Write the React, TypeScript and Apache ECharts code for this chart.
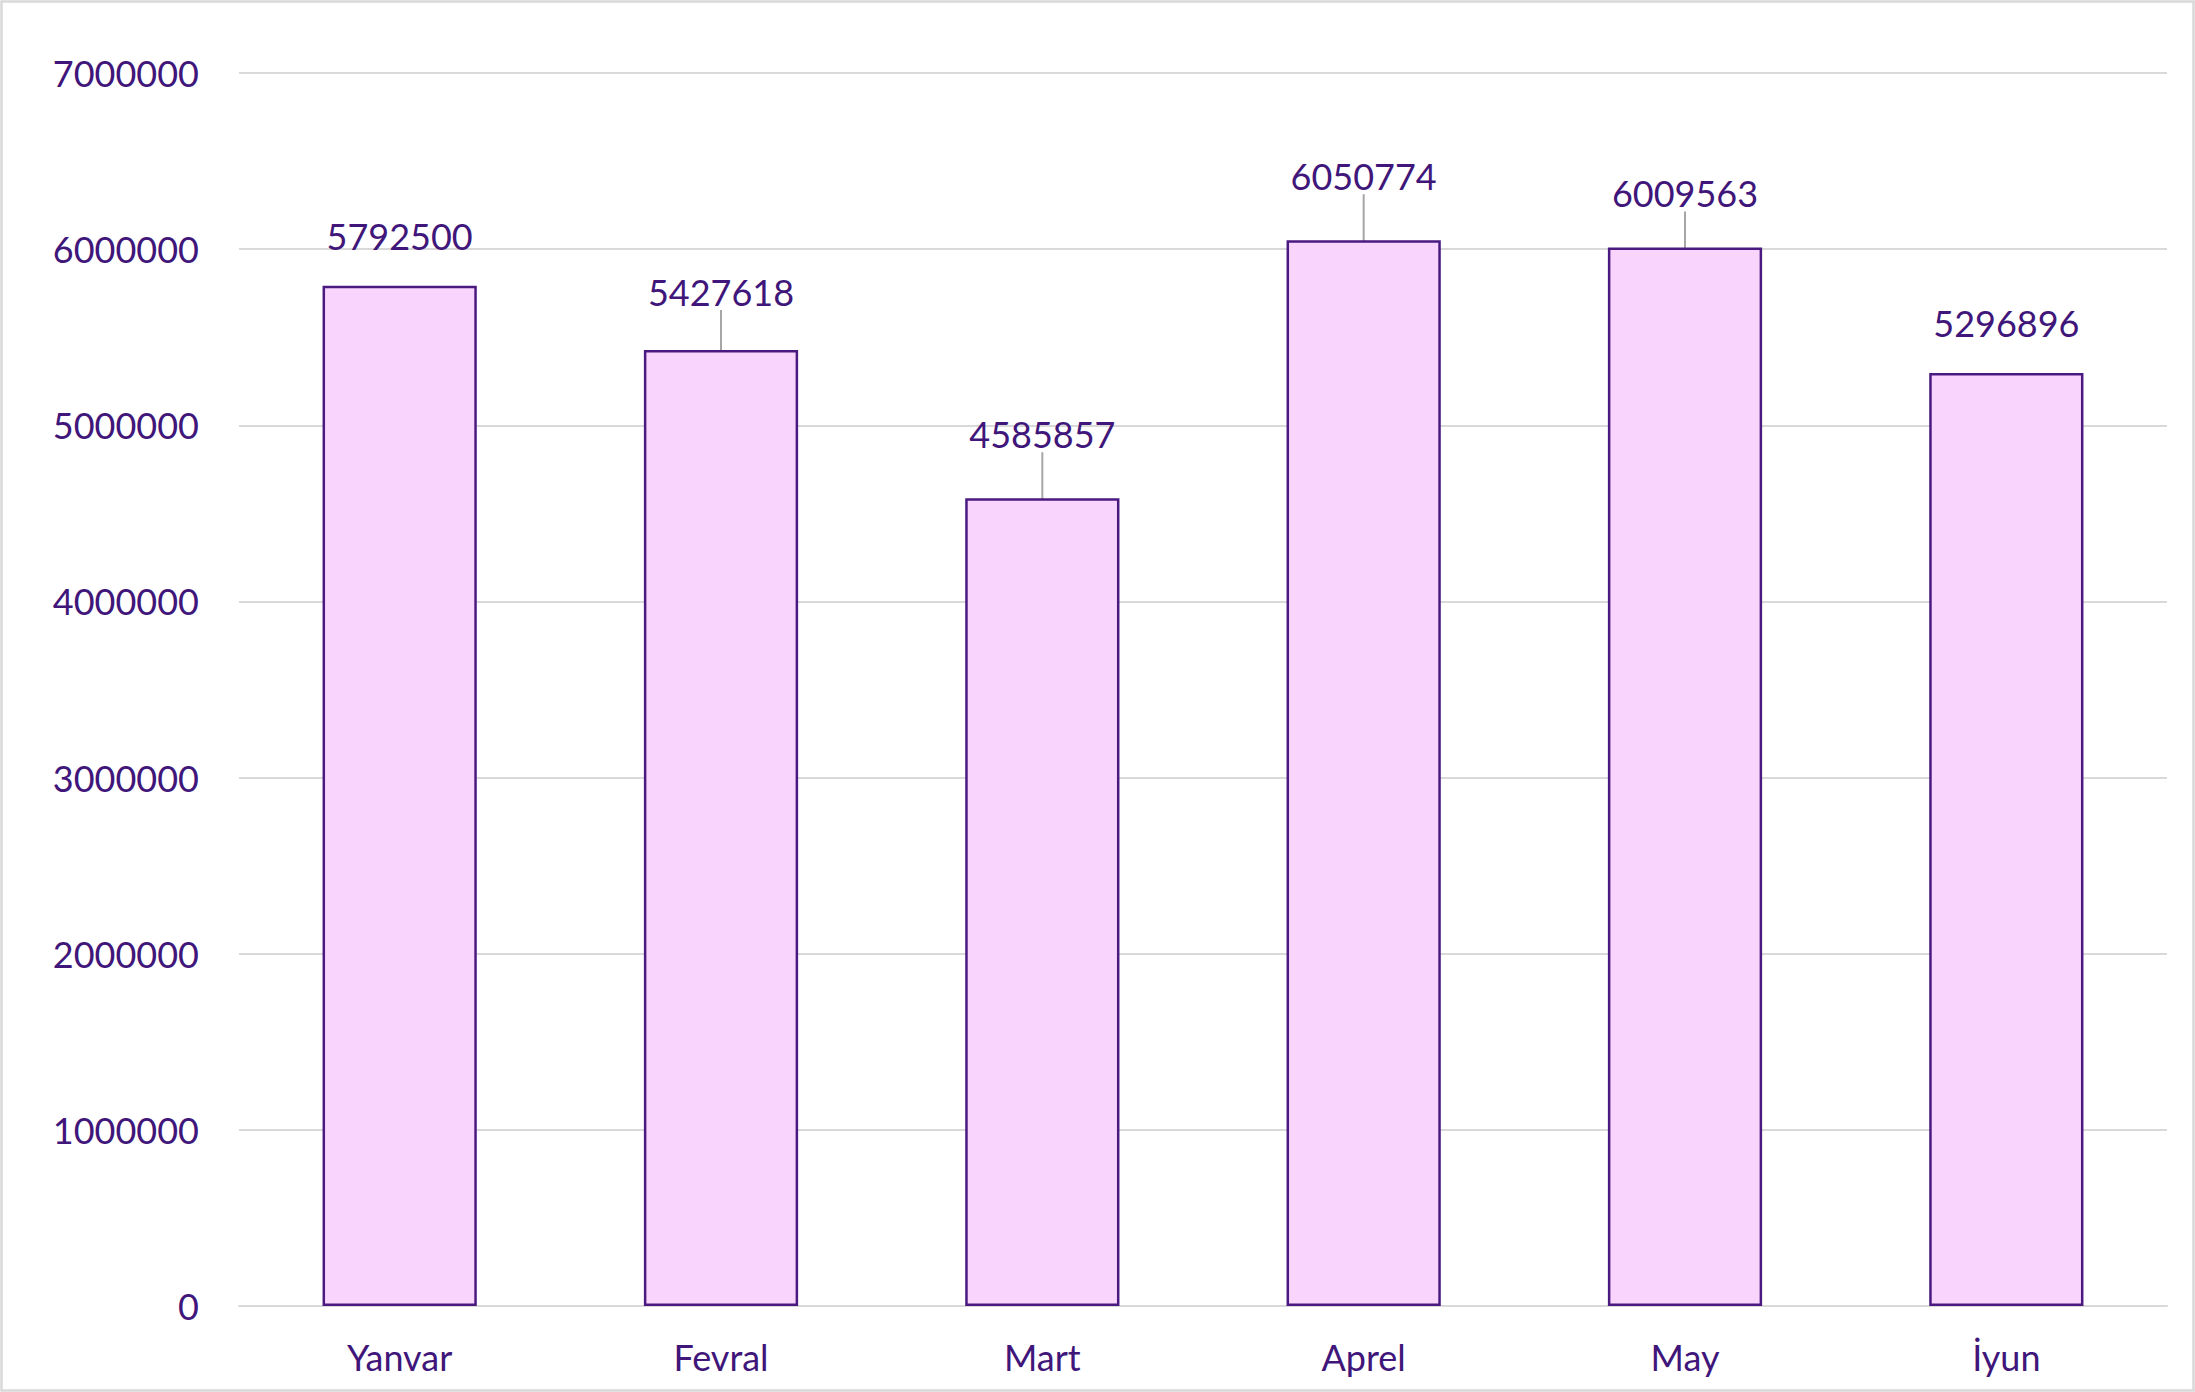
import React, { useEffect, useRef } from "react";
import * as echarts from "echarts";

const categories = ["Yanvar", "Fevral", "Mart", "Aprel", "May", "İyun"];
const values = [5792500, 5427618, 4585857, 6050774, 6009563, 5296896];
const yTicks = { min: 0, max: 7000000, interval: 1000000 };

// extra upward displacement of each value label (px); a leader line shows when > 0
const labelLift = [0, 8, 14, 14, 4, 0];

const TEXT = "#40167a";
const FONT = "Lato, 'Open Sans', sans-serif";

export default function App() {
  const ref = useRef<HTMLDivElement>(null);
  useEffect(() => {
    if (!ref.current) return;
    const chart = echarts.init(ref.current, null, { renderer: "svg" });
    chart.setOption({
      animation: false,
      backgroundColor: "#ffffff",
      textStyle: { fontFamily: FONT },
      graphic: [
        {
          type: "rect",
          shape: { x: 1.5, y: 1.5, width: 2192, height: 1389 },
          style: { fill: "none", stroke: "#d9d9d9", lineWidth: 2.5 },
          silent: true,
        },
      ],
      grid: { left: 239, right: 28, top: 73, bottom: 86, containLabel: false },
      xAxis: {
        type: "category",
        data: categories,
        axisTick: { show: false },
        axisLine: { show: true, lineStyle: { color: "#d9d9d9", width: 2 } },
        axisLabel: { color: TEXT, fontSize: 36, fontFamily: FONT, margin: 33 },
      },
      yAxis: {
        type: "value",
        min: yTicks.min,
        max: yTicks.max,
        interval: yTicks.interval,
        axisLine: { show: false },
        axisTick: { show: false },
        splitLine: { lineStyle: { color: "#d9d9d9", width: 2 } },
        axisLabel: {
          color: TEXT,
          fontSize: 36,
          fontFamily: FONT,
          margin: 40,
          formatter: (v: number) => String(v),
        },
      },
      series: [
        {
          type: "bar",
          data: values.map((v, i) => ({
            value: v,
            labelLine: { show: labelLift[i] > 0 },
          })),
          barWidth: "48%",
          itemStyle: { color: "#f9d4fd", borderColor: "#4a1a80", borderWidth: 2.5 },
          label: {
            show: true,
            position: "top",
            distance: 32,
            color: TEXT,
            fontSize: 36,
            fontFamily: FONT,
          },
          labelLine: { show: true, lineStyle: { color: "#a6a6a6", width: 2 } },
          labelLayout: (params: any) => ({ dy: -labelLift[params.dataIndex] }),
        },
      ],
    });
    return () => chart.dispose();
  }, []);
  return (
    <div
      ref={ref}
      style={{ position: "fixed", left: 0, top: 0, width: 2195, height: 1392 }}
    />
  );
}
